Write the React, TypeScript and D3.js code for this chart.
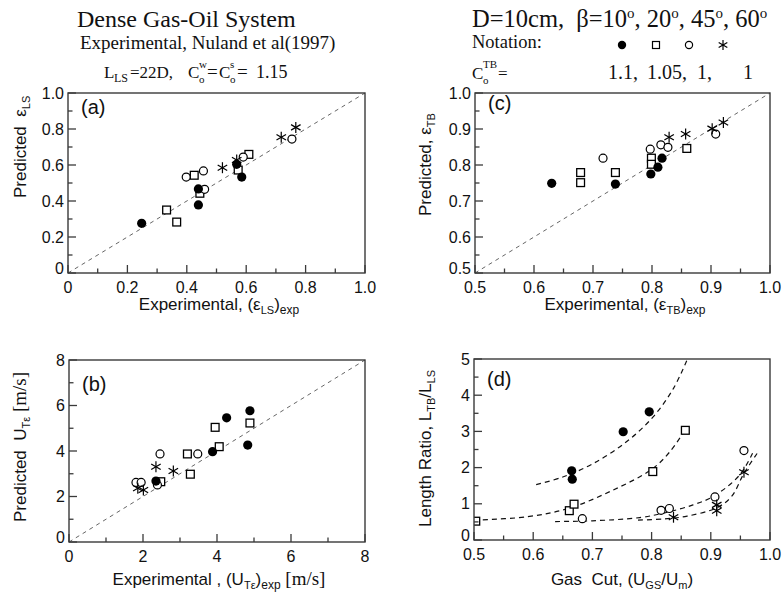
import React from 'react';
import * as d3 from 'd3';

// ---------- data ----------
// Panel (a): predicted vs experimental eps_LS  [exp, pred]
const aFilled: [number, number][] = [[0.248, 0.276], [0.439, 0.467], [0.439, 0.378], [0.568, 0.604], [0.585, 0.533]];
const aSquare: [number, number][] = [[0.332, 0.35], [0.366, 0.283], [0.425, 0.543], [0.444, 0.443], [0.573, 0.572], [0.609, 0.659]];
const aCircle: [number, number][] = [[0.398, 0.533], [0.456, 0.567], [0.46, 0.465], [0.59, 0.644], [0.754, 0.744]];
const aStar: [number, number][] = [[0.52, 0.585], [0.568, 0.628], [0.718, 0.754], [0.767, 0.809]];

// Panel (c): eps_TB
const cFilled: [number, number][] = [[0.63, 0.749], [0.738, 0.747], [0.798, 0.775], [0.81, 0.794], [0.817, 0.819]];
const cSquare: [number, number][] = [[0.679, 0.779], [0.679, 0.751], [0.738, 0.779], [0.799, 0.819], [0.799, 0.802], [0.859, 0.846]];
const cCircle: [number, number][] = [[0.717, 0.819], [0.797, 0.844], [0.815, 0.856], [0.827, 0.849], [0.908, 0.886]];
const cStar: [number, number][] = [[0.829, 0.877], [0.857, 0.886], [0.902, 0.901], [0.921, 0.918]];

// Panel (b): U_Teps [m/s]
const bFilled: [number, number][] = [[2.35, 2.68], [3.88, 3.97], [4.26, 5.46], [4.89, 5.77], [4.83, 4.26]];
const bSquare: [number, number][] = [[2.48, 2.65], [3.2, 3.87], [3.28, 2.98], [3.95, 5.04], [4.06, 4.19], [4.89, 5.23]];
const bCircle: [number, number][] = [[1.81, 2.62], [1.95, 2.62], [2.39, 2.51], [2.46, 3.87], [3.48, 3.87]];
const bStar: [number, number][] = [[1.86, 2.36], [2.01, 2.29], [2.35, 3.31], [2.82, 3.12]];

// Panel (d): length ratio vs gas cut
const dFilled: [number, number][] = [[0.665, 1.91], [0.666, 1.68], [0.752, 2.99], [0.796, 3.54]];
const dSquare: [number, number][] = [[0.503, 0.52], [0.661, 0.81], [0.669, 0.99], [0.802, 1.89], [0.857, 3.03]];
const dCircle: [number, number][] = [[0.683, 0.59], [0.816, 0.82], [0.83, 0.87], [0.907, 1.19], [0.956, 2.47]];
const dStar: [number, number][] = [[0.837, 0.63], [0.91, 0.97], [0.91, 0.81], [0.956, 1.87]];

// Panel (d) dashed trend curves
const dCurveFilled: [number, number][] = [[0.605, 1.53], [0.65, 1.74], [0.70, 2.1], [0.758, 2.72], [0.803, 3.41], [0.837, 4.19], [0.86, 4.98]];
const dCurveSquare: [number, number][] = [[0.5, 0.55], [0.589, 0.64], [0.661, 0.88], [0.735, 1.38], [0.80, 1.95], [0.83, 2.42], [0.857, 3.05]];
const dCurveCircle: [number, number][] = [[0.637, 0.51], [0.70, 0.53], [0.78, 0.62], [0.825, 0.76], [0.87, 0.97], [0.904, 1.2], [0.949, 1.8], [0.972, 2.45]];
const dCurveStar: [number, number][] = [[0.777, 0.55], [0.82, 0.58], [0.86, 0.66], [0.91, 0.89], [0.935, 1.2], [0.956, 1.84], [0.979, 2.41]];

// tick labels
const aTicks = ['0', '0.2', '0.4', '0.6', '0.8', '1.0'];
const cTicks = ['0.5', '0.6', '0.7', '0.8', '0.9', '1.0'];
const bTicks = ['0', '2', '4', '6', '8'];
const dXTicks = ['0.5', '0.6', '0.7', '0.8', '0.9', '1.0'];
const dYTicks = ['0', '1', '2', '3', '4', '5'];

const coValues = ['1.1,', '1.05,', '1,', '1'];

// ---------- drawing ----------
const SANS = '"Liberation Sans", Arial, sans-serif';
const SERIF = '"Liberation Serif", "Times New Roman", serif';
const FRAME = '#3a3a3a';

type Pt = [number, number];
type Sc = d3.ScaleLinear<number, number>;

function Filled({ pts, x, y }: { pts: Pt[]; x: Sc; y: Sc }) {
  return <g>{pts.map((p, i) => <circle key={i} cx={x(p[0])} cy={y(p[1])} r={4.6} fill="#000" />)}</g>;
}
function Square({ pts, x, y }: { pts: Pt[]; x: Sc; y: Sc }) {
  return <g>{pts.map((p, i) => <rect key={i} x={x(p[0]) - 3.9} y={y(p[1]) - 3.9} width={7.8} height={7.8} fill="#fff" stroke="#000" strokeWidth={1.3} />)}</g>;
}
function OCircle({ pts, x, y }: { pts: Pt[]; x: Sc; y: Sc }) {
  return <g>{pts.map((p, i) => <circle key={i} cx={x(p[0])} cy={y(p[1])} r={4} fill="#fff" stroke="#000" strokeWidth={1.2} />)}</g>;
}
function StarMark({ cx, cy, s = 5.5 }: { cx: number; cy: number; s?: number }) {
  const angs = [90, 30, 150];
  return (
    <g stroke="#000" strokeWidth={1.2}>
      {angs.map((a) => {
        const r = (a * Math.PI) / 180;
        return <line key={a} x1={cx - s * Math.cos(r)} y1={cy - s * Math.sin(r)} x2={cx + s * Math.cos(r)} y2={cy + s * Math.sin(r)} />;
      })}
    </g>
  );
}
function Star({ pts, x, y }: { pts: Pt[]; x: Sc; y: Sc }) {
  return <g>{pts.map((p, i) => <StarMark key={i} cx={x(p[0])} cy={y(p[1])} />)}</g>;
}

interface PanelProps {
  x: Sc; y: Sc;
  xMajor: number[]; xMinor: number[]; xLabels: string[];
  yMajor: number[]; yMinor: number[]; yLabels: string[];
  tag: string; tagY: number;
  diag?: [number, number];
  children?: React.ReactNode;
}

function Panel({ x, y, xMajor, xMinor, xLabels, yMajor, yMinor, yLabels, tag, tagY, diag, children }: PanelProps) {
  const [x0, x1] = x.range();
  const [y0, y1] = y.range(); // y0 bottom, y1 top
  const clipId = 'clip' + tag.replace(/[()]/g, '');
  return (
    <g>
      <defs>
        <clipPath id={clipId}>
          <rect x={x0} y={y1} width={x1 - x0} height={y0 - y1} />
        </clipPath>
      </defs>
      {diag && (
        <line x1={x(diag[0])} y1={y(diag[0])} x2={x(diag[1])} y2={y(diag[1])} stroke="#555" strokeWidth={0.9} strokeDasharray="4,4" />
      )}
      <g clipPath={`url(#${clipId})`}>{children}</g>
      <rect x={x0} y={y1} width={x1 - x0} height={y0 - y1} fill="none" stroke={FRAME} strokeWidth={1.4} />
      {xMinor.map((v, i) => <line key={'xm' + i} x1={x(v)} x2={x(v)} y1={y0} y2={y0 - 4.5} stroke={FRAME} strokeWidth={1.3} />)}
      {xMajor.map((v, i) => <line key={'xM' + i} x1={x(v)} x2={x(v)} y1={y0} y2={y0 - 8} stroke={FRAME} strokeWidth={1.3} />)}
      {yMinor.map((v, i) => <line key={'ym' + i} x1={x0} x2={x0 + 4.5} y1={y(v)} y2={y(v)} stroke={FRAME} strokeWidth={1.3} />)}
      {yMajor.map((v, i) => <line key={'yM' + i} x1={x0} x2={x0 + 8} y1={y(v)} y2={y(v)} stroke={FRAME} strokeWidth={1.3} />)}
      {xMajor.map((v, i) => (
        <text key={'xl' + i} x={x(v)} y={y0 + 20} textAnchor="middle" fontFamily={SANS} fontSize={16} fill="#111">{xLabels[i]}</text>
      ))}
      {yMajor.map((v, i) => (
        <text key={'yl' + i} x={x0 - 4} y={y(v) + 5.5 - (i === 0 ? 5 : 0)} textAnchor="end" fontFamily={SANS} fontSize={16} fill="#111">{yLabels[i]}</text>
      ))}
      <text x={x0 + 13} y={tagY} fontFamily={SANS} fontSize={20} fill="#111">{tag}</text>
    </g>
  );
}

export default function App() {
  // scales
  const xa = d3.scaleLinear().domain([0, 1]).range([68, 365]);
  const ya = d3.scaleLinear().domain([0, 1]).range([273, 93]);
  const xc = d3.scaleLinear().domain([0.5, 1]).range([475, 770]);
  const yc = d3.scaleLinear().domain([0.5, 1]).range([273, 93]);
  const xb = d3.scaleLinear().domain([0, 8]).range([69, 365]);
  const yb = d3.scaleLinear().domain([0, 8]).range([542, 360]);
  const xd = d3.scaleLinear().domain([0.5, 1]).range([474, 770]);
  const yd = d3.scaleLinear().domain([0, 5]).range([540, 359]);

  const aMaj = aTicks.map(Number);
  const aMin = [0.1, 0.3, 0.5, 0.7, 0.9];
  const cMaj = cTicks.map(Number);
  const cMin = [0.55, 0.65, 0.75, 0.85, 0.95];
  const bMaj = bTicks.map(Number);
  const bMin = [1, 3, 5, 7];
  const dxMaj = dXTicks.map(Number);
  const dyMaj = dYTicks.map(Number);
  const dyMin = [0.5, 1.5, 2.5, 3.5, 4.5];

  const lineD = d3.line<Pt>().x((d) => xd(d[0])).y((d) => yd(d[1])).curve(d3.curveCatmullRom.alpha(0.5));

  const sub = 11;
  const LF = 17; // axis label font

  return (
    <svg width={782} height={597} style={{ position: 'absolute', left: 0, top: 0, background: '#fff' }} xmlns="http://www.w3.org/2000/svg">
      <rect width={782} height={597} fill="#fff" />
      {/* Left header */}
      <text x={77} y={27} fontFamily={SERIF} fontSize={24} fill="#111">Dense Gas-Oil System</text>
      <text x={80} y={49} fontFamily={SERIF} fontSize={19} fill="#111">Experimental, Nuland et al(1997)</text>
      <text x={104} y={78} fontFamily={SERIF} fontSize={17} fill="#111">L</text>
      <text x={114} y={82} fontFamily={SERIF} fontSize={12} fill="#111">LS</text>
      <text x={130} y={78} fontFamily={SERIF} fontSize={17} fill="#111">=22D,</text>
      <text x={188} y={78} fontFamily={SERIF} fontSize={17} fill="#111">C</text>
      <text x={199} y={83} fontFamily={SERIF} fontSize={11} fill="#111">o</text>
      <text x={199} y={68} fontFamily={SERIF} fontSize={11} fill="#111">w</text>
      <text x={207} y={78} fontFamily={SERIF} fontSize={19} fill="#111">=</text>
      <text x={219} y={78} fontFamily={SERIF} fontSize={17} fill="#111">C</text>
      <text x={230} y={83} fontFamily={SERIF} fontSize={11} fill="#111">o</text>
      <text x={230} y={68} fontFamily={SERIF} fontSize={11} fill="#111">s</text>
      <text x={237} y={78} fontFamily={SERIF} fontSize={19} fill="#111">=</text>
      <text x={256} y={78} fontFamily={SERIF} fontSize={18} fill="#111">1.15</text>

      {/* Right header */}
      <text x={472} y={27} fontFamily={SERIF} fontSize={24.5} fill="#111" xmlSpace="preserve">
        D=10cm,  β=10<tspan fontSize={15} dy={-9}>o</tspan>
        <tspan dy={9}>, 20</tspan><tspan fontSize={15} dy={-9}>o</tspan>
        <tspan dy={9}>, 45</tspan><tspan fontSize={15} dy={-9}>o</tspan>
        <tspan dy={9}>, 60</tspan><tspan fontSize={15} dy={-9}>o</tspan>
      </text>
      <text x={472} y={48} fontFamily={SERIF} fontSize={18.5} fill="#111">Notation:</text>
      <circle cx={622} cy={45} r={4.2} fill="#000" />
      <rect x={652.5} y={41.5} width={7} height={7} fill="#fff" stroke="#000" strokeWidth={1.2} />
      <circle cx={689} cy={45} r={3.6} fill="#fff" stroke="#000" strokeWidth={1.2} />
      <StarMark cx={723} cy={45} s={5} />
      <text x={472} y={79} fontFamily={SERIF} fontSize={17} fill="#111">C</text>
      <text x={483} y={84} fontFamily={SERIF} fontSize={11} fill="#111">o</text>
      <text x={483} y={68} fontFamily={SERIF} fontSize={11} fill="#111">TB</text>
      <text x={498} y={79} fontFamily={SERIF} fontSize={17} fill="#111">=</text>
      {coValues.map((t, i) => (
        <text key={i} x={[608, 647, 697, 743][i]} y={79} fontFamily={SERIF} fontSize={20} fill="#111">{t}</text>
      ))}

      {/* Panel (a) */}
      <Panel x={xa} y={ya} xMajor={aMaj} xMinor={aMin} xLabels={aTicks} yMajor={aMaj} yMinor={aMin} yLabels={aTicks} tag="(a)" tagY={114} diag={[0, 1]}>
        <Square pts={aSquare} x={xa} y={ya} />
        <OCircle pts={aCircle} x={xa} y={ya} />
        <Star pts={aStar} x={xa} y={ya} />
        <Filled pts={aFilled} x={xa} y={ya} />
      </Panel>
      <text x={219} y={310} textAnchor="middle" fontFamily={SANS} fontSize={LF} fill="#111">
        Experimental, (ε<tspan fontSize={sub} dy={4}>LS</tspan><tspan dy={-4}>)</tspan><tspan fontSize={sub + 1} dy={4}>exp</tspan>
      </text>
      <text transform="translate(26,198) rotate(-90)" fontFamily={SANS} fontSize={LF} fill="#111" xmlSpace="preserve">
        Predicted  ε<tspan fontSize={sub} dy={4}>LS</tspan>
      </text>

      {/* Panel (c) */}
      <Panel x={xc} y={yc} xMajor={cMaj} xMinor={cMin} xLabels={cTicks} yMajor={cMaj} yMinor={cMin} yLabels={cTicks} tag="(c)" tagY={110} diag={[0.5, 1]}>
        <Square pts={cSquare} x={xc} y={yc} />
        <OCircle pts={cCircle} x={xc} y={yc} />
        <Star pts={cStar} x={xc} y={yc} />
        <Filled pts={cFilled} x={xc} y={yc} />
      </Panel>
      <text x={625} y={310} textAnchor="middle" fontFamily={SANS} fontSize={LF} fill="#111">
        Experimental, (ε<tspan fontSize={sub} dy={4}>TB</tspan><tspan dy={-4}>)</tspan><tspan fontSize={sub + 1} dy={4}>exp</tspan>
      </text>
      <text transform="translate(431,216) rotate(-90)" fontFamily={SANS} fontSize={LF} fill="#111">
        Predicted, ε<tspan fontSize={sub} dy={4}>TB</tspan>
      </text>

      {/* Panel (b) */}
      <Panel x={xb} y={yb} xMajor={bMaj} xMinor={bMin} xLabels={bTicks} yMajor={bMaj} yMinor={bMin} yLabels={bTicks} tag="(b)" tagY={391} diag={[0, 8]}>
        <Square pts={bSquare} x={xb} y={yb} />
        <OCircle pts={bCircle} x={xb} y={yb} />
        <Star pts={bStar} x={xb} y={yb} />
        <Filled pts={bFilled} x={xb} y={yb} />
      </Panel>
      <text x={219} y={585} textAnchor="middle" fontFamily={SANS} fontSize={LF} fill="#111" xmlSpace="preserve">
        Experimental , (U<tspan fontSize={sub} dy={4}>Tε</tspan><tspan dy={-4}>)</tspan><tspan fontSize={sub + 1} dy={4}>exp</tspan><tspan dy={-4} fontFamily={SERIF} fontSize={19}> [m/s]</tspan>
      </text>
      <text transform="translate(26,522) rotate(-90)" fontFamily={SANS} fontSize={LF} fill="#111" xmlSpace="preserve">
        Predicted  U<tspan fontSize={sub} dy={4}>Tε</tspan><tspan dy={-4} fontFamily={SERIF} fontSize={19}> [m/s]</tspan>
      </text>

      {/* Panel (d) */}
      <Panel x={xd} y={yd} xMajor={dxMaj} xMinor={cMin} xLabels={dXTicks} yMajor={dyMaj} yMinor={dyMin} yLabels={dYTicks} tag="(d)" tagY={386}>
        {[dCurveFilled, dCurveSquare, dCurveCircle, dCurveStar].map((c, i) => (
          <path key={i} d={lineD(c) || ''} fill="none" stroke="#111" strokeWidth={1.2} strokeDasharray="5,4" />
        ))}
        <Square pts={dSquare} x={xd} y={yd} />
        <OCircle pts={dCircle} x={xd} y={yd} />
        <Star pts={dStar} x={xd} y={yd} />
        <Filled pts={dFilled} x={xd} y={yd} />
      </Panel>
      <text x={622} y={585} textAnchor="middle" fontFamily={SANS} fontSize={LF} fill="#111" xmlSpace="preserve">
        Gas  Cut, (U<tspan fontSize={sub} dy={4}>GS</tspan><tspan dy={-4}>/U</tspan><tspan fontSize={sub} dy={4}>m</tspan><tspan dy={-4}>)</tspan>
      </text>
      <text transform="translate(431,527) rotate(-90)" fontFamily={SANS} fontSize={LF} fill="#111">
        Length Ratio, L<tspan fontSize={sub} dy={4}>TB</tspan><tspan dy={-4}>/L</tspan><tspan fontSize={sub} dy={4}>LS</tspan>
      </text>
    </svg>
  );
}
